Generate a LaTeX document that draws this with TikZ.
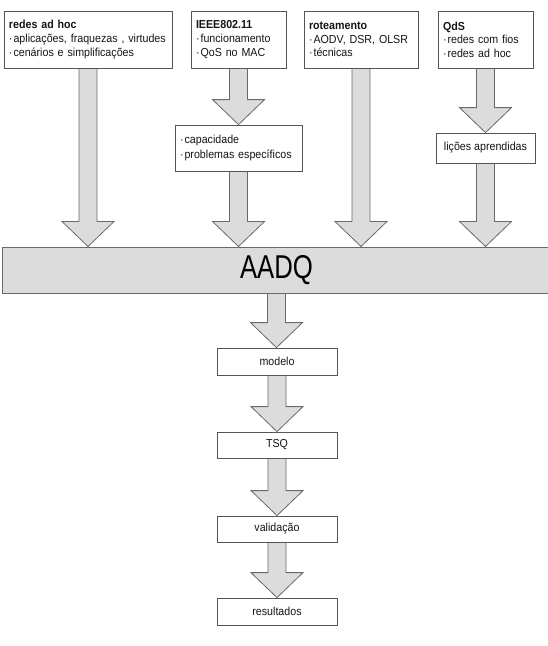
\documentclass[tikz,border=0pt]{standalone}
\usepackage{fontspec}
\setmainfont{Liberation Sans}[FakeStretch=0.92]
\newfontfamily\bigfont{Liberation Sans}[FakeStretch=0.78]
\usetikzlibrary{calc,backgrounds}
\definecolor{boxline}{HTML}{555555}
\definecolor{arrfill}{HTML}{DCDCDC}
\definecolor{arrline}{HTML}{6A6A6A}
\definecolor{txt}{HTML}{151515}
\hyphenpenalty=10000
\tikzset{
  topbox/.style={draw=boxline, line width=0.8pt, fill=white, rectangle, inner xsep=5pt, inner ysep=0pt,
    align=left, text=txt, font=\fontsize{11.6}{13.6}\selectfont},
  flowbox/.style={draw=boxline, line width=0.8pt, fill=white, rectangle, inner sep=0pt,
    align=center, text=txt, font=\fontsize{11.6}{13.6}\selectfont},
  barbox/.style={draw=arrline, line width=1pt, fill=arrfill, rectangle, inner sep=0pt,
    text=black, font=\bigfont\fontsize{33}{36}\selectfont},
  barrow/.style={fill=arrfill, draw=arrline, line width=0.8pt, line join=miter}
}
\newcommand\blockarrow[2]{%
  \filldraw[barrow] let \p1=(#1.south), \p2=(#1.south |- #2.north) in
    (\x1-9pt,\y1) -- (\x1-9pt,\y2+25pt) -- (\x1-26pt,\y2+25pt) -- (\x1,\y2)
    -- (\x1+26pt,\y2+25pt) -- (\x1+9pt,\y2+25pt) -- (\x1+9pt,\y1);}
\newcommand\bul[1]{\mbox{·\kern1pt #1}}
\begin{document}
\begin{tikzpicture}[x=1pt,y=-1pt]
\useasboundingbox (0,0) rectangle (547,646);
% top boxes
\node[topbox, text width=158pt, minimum height=57pt] (adhoc) at (88,39.5)
  {\textbf{redes ad hoc}\\ \bul{aplicações, fraquezas , virtudes}\\ \bul{cenários e simplificações}};
\node[topbox, text width=85pt, minimum height=57pt] (ieee) at (238.5,39.5)
  {\textbf{IEEE802.11}\\ \bul{funcionamento}\\ \bul{QoS no MAC}};
\node[topbox, text width=104pt, minimum height=57pt] (rot) at (361,39.5)
  {\textbf{roteamento}\\ \bul{AODV, DSR, OLSR}\\ \bul{técnicas}};
\node[topbox, text width=85pt, minimum height=57pt] (qds) at (485.5,39.5)
  {\textbf{QdS}\\ \bul{redes com fios}\\ \bul{redes ad hoc}};
% intermediate boxes
\node[topbox, text width=117pt, minimum height=46pt, font=\fontsize{11.6}{14.5}\selectfont] (cap) at (238.5,148)
  {\bul{capacidade}\\ \bul{problemas específicos}};
\node[flowbox, minimum width=99pt, minimum height=30pt] (lic) at (485.5,148) {lições aprendidas};
% AADQ bar
\node[barbox, minimum width=549pt, minimum height=46pt] (aadq) at (276.5,270) {AADQ};
% lower flow
\node[flowbox, minimum width=120pt, minimum height=27pt] (modelo) at (277,361.5) {modelo};
\node[flowbox, minimum width=120pt, minimum height=26pt] (tsq) at (277,445) {TSQ};
\node[flowbox, minimum width=120pt, minimum height=26pt] (valid) at (277,529) {validação};
\node[flowbox, minimum width=120pt, minimum height=27pt] (result) at (277,611.5) {resultados};
% block arrows
\begin{pgfonlayer}{background}
\blockarrow{adhoc}{aadq}
\blockarrow{ieee}{cap}
\blockarrow{cap}{aadq}
\blockarrow{rot}{aadq}
\blockarrow{qds}{lic}
\blockarrow{lic}{aadq}
\blockarrow{aadq}{modelo}
\blockarrow{modelo}{tsq}
\blockarrow{tsq}{valid}
\blockarrow{valid}{result}
\end{pgfonlayer}
\end{tikzpicture}
\end{document}
